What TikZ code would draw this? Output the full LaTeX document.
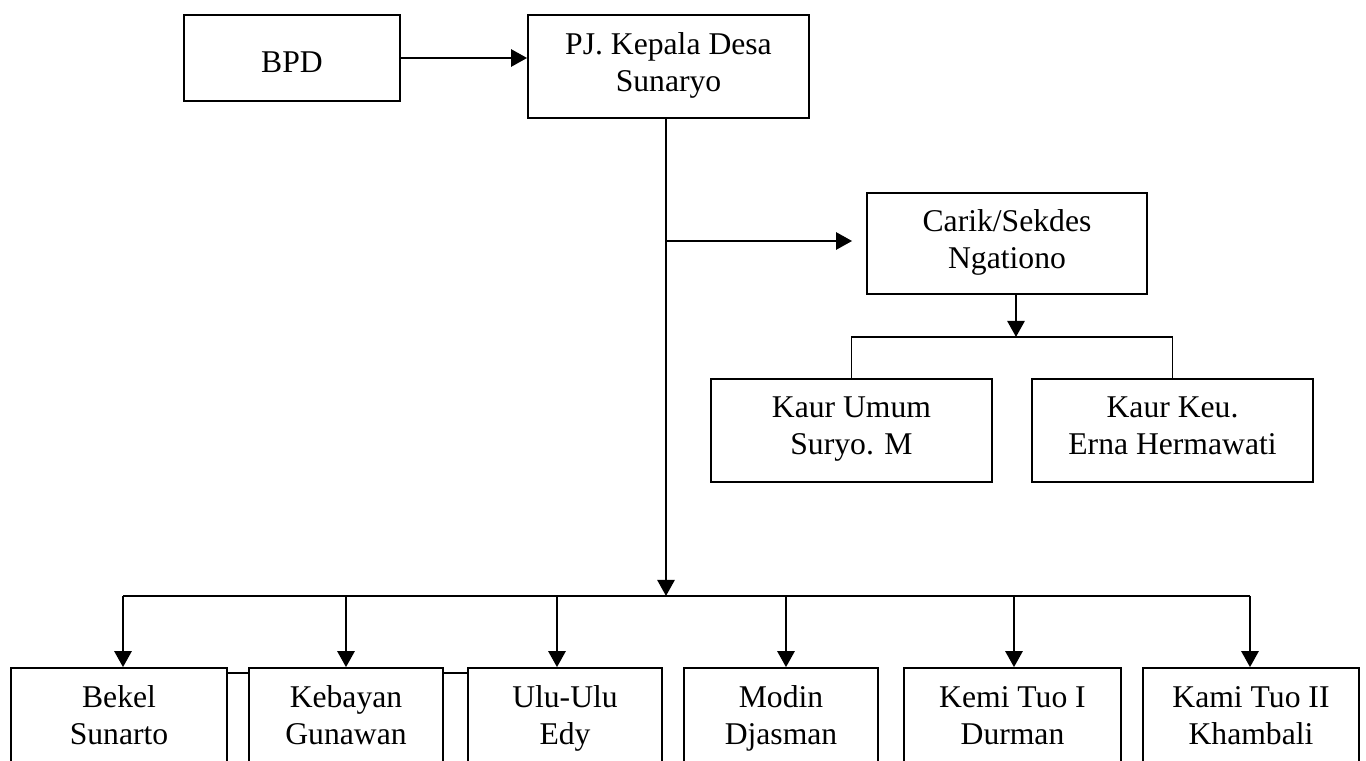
\documentclass[tikz,border=0pt]{standalone}
\usepackage{fontspec}
\setmainfont{Liberation Serif}
\usetikzlibrary{arrows.meta}

\tikzset{
  box/.style={draw, line width=0.45pt, align=center, inner sep=0pt, text depth=0.25em,
    font=\fontsize{9}{10.5}\selectfont},
  arr/.style={line width=0.75pt, -{Triangle[length=0.16cm,width=0.17cm]}},
  link/.style={line width=0.45pt}
}

\begin{document}
\begin{tikzpicture}[x=0.01cm,y=-0.01cm]
  \useasboundingbox (0,0) rectangle (1366,761);
  \clip (0,0) rectangle (1366,761);

  % top
  \node[box, minimum width=2.16cm, minimum height=0.86cm, text height=0.28cm, text depth=0pt] (bpd) at (292,58) {BPD};
  \node[box, minimum width=2.81cm, minimum height=1.03cm] (kades) at (668.5,66.5) {PJ. Kepala Desa\\Sunaryo};
  \node[box, minimum width=2.80cm, minimum height=1.01cm] (sekdes) at (1007,243.5) {Carik/Sekdes\\Ngationo};
  \node[box, minimum width=2.81cm, minimum height=1.03cm] (umum) at (851.5,430.5) {Kaur Umum\\Suryo. M};
  \node[box, minimum width=2.81cm, minimum height=1.03cm] (keu) at (1172.5,430.5) {Kaur Keu.\\Erna Hermawati};

  % bottom row
  \node[box, minimum width=2.16cm, minimum height=1.03cm] (bekel) at (119,719.5) {Bekel\\Sunarto};
  \node[box, minimum width=1.94cm, minimum height=1.03cm] (kebayan) at (346,719.5) {Kebayan\\Gunawan};
  \node[box, minimum width=1.94cm, minimum height=1.03cm] (ulu) at (565,719.5) {Ulu-Ulu\\Edy};
  \node[box, minimum width=1.94cm, minimum height=1.03cm] (modin) at (781,719.5) {Modin\\Djasman};
  \node[box, minimum width=2.17cm, minimum height=1.03cm] (kemi) at (1012.5,719.5) {Kemi Tuo I\\Durman};
  \node[box, minimum width=2.16cm, minimum height=1.03cm] (kami) at (1251,719.5) {Kami Tuo II\\Khambali};

  \coordinate (split) at (666,241);
  \coordinate (bar) at (666,596);
  \coordinate (kaurbar) at (1016,337);

  \draw[arr] (bpd.east) -- (bpd.east -| kades.west);
  \draw[arr] (kades.south -| bar) -- (bar);
  \draw[arr, shorten >=0.14cm] (split) -- (split -| sekdes.west);
  \draw[arr] (sekdes.south -| kaurbar) -- (kaurbar);
  \draw[link] (umum.north) |- (kaurbar) -| (keu.north);

  \draw[line width=0.75pt] (bar -| 123,0) -- (bar -| 1250,0);
  \foreach \n/\x in {bekel/123, kebayan/346, ulu/557, modin/786, kemi/1014, kami/1250}
    \draw[arr] (bar -| \x,0) -- (\n.north -| \x,0);

  \draw[link] ([yshift=-0.06cm]bekel.north east) -- ([yshift=-0.06cm]kebayan.north west);
  \draw[link] ([yshift=-0.06cm]kebayan.north east) -- ([yshift=-0.06cm]ulu.north west);
\end{tikzpicture}
\end{document}
